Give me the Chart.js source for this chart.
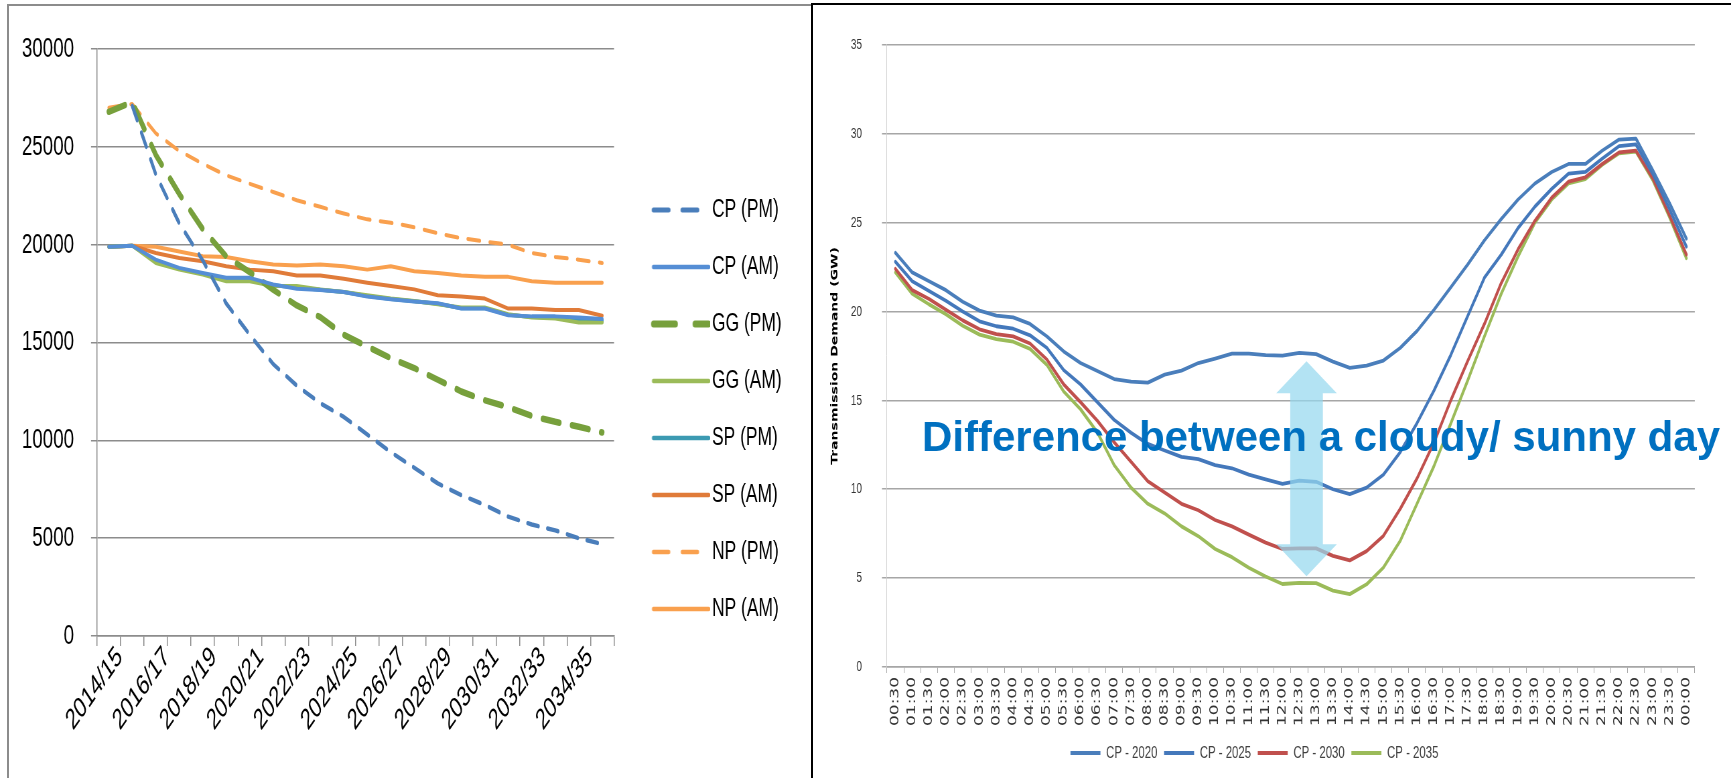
<!DOCTYPE html>
<html>
<head>
<meta charset="utf-8">
<title>Transmission demand</title>
<script src="https://cdn.jsdelivr.net/npm/chart.js@4.4.1/dist/chart.umd.min.js"></script>
<style>
  html, body { margin: 0; padding: 0; background: #fff; }
  body { width: 1731px; height: 778px; position: relative; overflow: hidden; }
  #leftPanel { position: absolute; left: 7px; top: 4px; width: 805px; height: 774px;
               border-left: 2px solid #8c8c8c; border-top: 2px solid #8c8c8c; box-sizing: border-box; }
  #rightPanel { position: absolute; left: 811px; top: 3px; width: 920px; height: 775px;
                border-left: 2px solid #000; border-top: 2px solid #000; box-sizing: border-box; }
  #leftChart { position: absolute; left: 10px; top: 7px; }
  #rightChart { position: absolute; left: 814px; top: 6px; }
</style>
</head>
<body>
<div id="leftPanel"></div>
<div id="rightPanel"></div>
<canvas id="leftChart" height="771" style="width:802px;height:771px"></canvas>
<canvas id="rightChart" height="772" style="width:917px;height:772px"></canvas>
<script>
// left chart: yearly peaks
const years = ['2014/15', '2015/16', '2016/17', '2017/18', '2018/19', '2019/20', '2020/21', '2021/22',
  '2022/23', '2023/24', '2024/25', '2025/26', '2026/27', '2027/28', '2028/29', '2029/30',
  '2030/31', '2031/32', '2032/33', '2033/34', '2034/35', '2035/36'];

const cpPm = [null, 27100, 23600, 21100, 19200, 17000, 15400, 13900, 12800, 11900, 11200,
  10300, 9400, 8600, 7800, 7200, 6700, 6100, 5700, 5400, 5000, 4700];
const cpAm = [19900, 19950, 19240, 18820, 18560, 18310, 18310, 17970, 17750, 17690, 17590,
  17350, 17210, 17100, 17010, 16740, 16740, 16400, 16340, 16340, 16280, 16200];
const ggPm = [26800, 27300, 24600, 22600, 20800, 19400, 18600, 17700, 16900, 16300, 15400,
  14800, 14200, 13700, 13100, 12500, 12050, 11700, 11250, 10950, 10700, 10400];
const ggAm = [19900, 19950, 19070, 18730, 18480, 18140, 18140, 17890, 17890, 17720, 17590,
  17420, 17250, 17130, 16960, 16790, 16790, 16450, 16280, 16230, 16030, 16030];
const spPm = [19900, 19950, 19150, 18780, 18520, 18230, 18230, 17930, 17820, 17700, 17590,
  17380, 17230, 17110, 16980, 16760, 16760, 16420, 16310, 16280, 16150, 16110];
const spAm = [19900, 19950, 19580, 19320, 19160, 18900, 18730, 18650, 18430, 18430, 18260,
  18060, 17890, 17720, 17420, 17350, 17250, 16740, 16740, 16670, 16670, 16370];
const npPm = [27000, 27200, 25700, 24800, 24140, 23550, 23120, 22700, 22280, 21940, 21600,
  21300, 21130, 20900, 20590, 20340, 20170, 20000, 19580, 19380, 19240, 19070];
const npAm = [19900, 19950, 19900, 19660, 19410, 19380, 19160, 18990, 18940, 18990, 18900,
  18730, 18900, 18650, 18560, 18430, 18360, 18360, 18140, 18060, 18060, 18060];

// right chart: half-hourly transmission demand (GW)
const times = ['00:30', '01:00', '01:30', '02:00', '02:30', '03:00', '03:30', '04:00',
  '04:30', '05:00', '05:30', '06:00', '06:30', '07:00', '07:30', '08:00',
  '08:30', '09:00', '09:30', '10:00', '10:30', '11:00', '11:30', '12:00',
  '12:30', '13:00', '13:30', '14:00', '14:30', '15:00', '15:30', '16:00',
  '16:30', '17:00', '17:30', '18:00', '18:30', '19:00', '19:30', '20:00',
  '20:30', '21:00', '21:30', '22:00', '22:30', '23:00', '23:30', '00:00'];

const cp2020 = [23.3, 22.2, 21.7, 21.2, 20.55, 20.05, 19.77, 19.67, 19.3, 18.6, 17.75, 17.1,
  16.65, 16.2, 16.05, 16.0, 16.45, 16.67, 17.1, 17.35, 17.63, 17.63, 17.55, 17.52,
  17.67, 17.6, 17.18, 16.83, 16.96, 17.24, 17.95, 18.91, 20.09, 21.36, 22.64, 24.0,
  25.2, 26.3, 27.2, 27.85, 28.3, 28.3, 29.05, 29.67, 29.73, 27.95, 26.1, 24.1];
const cp2025 = [22.8, 21.7, 21.15, 20.6, 20.0, 19.45, 19.17, 19.03, 18.66, 17.95, 16.7, 15.9,
  14.9, 13.9, 13.18, 12.55, 12.18, 11.82, 11.69, 11.36, 11.18, 10.82, 10.55, 10.3,
  10.49, 10.42, 10.0, 9.73, 10.09, 10.82, 12.09, 13.73, 15.55, 17.55, 19.73, 21.9,
  23.2, 24.7, 25.9, 26.9, 27.75, 27.85, 28.6, 29.3, 29.4, 27.75, 25.75, 23.65];
const cp2030 = [22.4, 21.2, 20.7, 20.1, 19.5, 19.0, 18.73, 18.6, 18.2, 17.3, 15.9, 14.9,
  13.85, 12.64, 11.55, 10.45, 9.82, 9.18, 8.82, 8.27, 7.91, 7.45, 7.0, 6.64,
  6.67, 6.67, 6.25, 6.0, 6.52, 7.38, 8.9, 10.62, 12.62, 15.0, 17.2, 19.3,
  21.6, 23.5, 25.1, 26.4, 27.3, 27.55, 28.3, 28.95, 29.05, 27.5, 25.4, 23.2];
const cp2035 = [22.2, 21.0, 20.4, 19.85, 19.2, 18.7, 18.45, 18.3, 17.9, 17.0, 15.5, 14.5,
  13.2, 11.36, 10.09, 9.18, 8.64, 7.91, 7.36, 6.64, 6.18, 5.58, 5.09, 4.67,
  4.73, 4.72, 4.3, 4.1, 4.65, 5.6, 7.1, 9.2, 11.3, 13.7, 16.1, 18.6,
  21.0, 23.1, 25.0, 26.3, 27.2, 27.45, 28.25, 28.9, 29.0, 27.4, 25.3, 23.0];

// the source picture is squeezed sideways, so both canvases are drawn wider and shown narrower
const squeeze = 0.67;
const sx = (v) => v / squeeze;
const sans = "'Liberation Sans', Arial, sans-serif";

function line(label, data, color, width, dash, legendDash) {
  return {
    label: label,
    data: data,
    borderColor: color,
    backgroundColor: color,
    borderWidth: width,
    borderDash: dash || [],
    legendDash: legendDash || [],
    borderCapStyle: 'round',
    borderJoinStyle: 'round',
    pointRadius: 0,
    tension: 0,
    fill: false
  };
}

const leftCanvas = document.getElementById('leftChart');
leftCanvas.width = Math.round(sx(802));
const rightCanvas = document.getElementById('rightChart');
rightCanvas.width = Math.round(sx(917));

// left legend geometry (page px measured from the left canvas edge)
const legFont = 26;
const legPad = 31;
const legLeft = sx(604);
const legWidth = 254;
const legBox = sx(702) - legLeft - legPad - legFont / 2;
const legCenter = legLeft + legPad + legBox / 2;
const legImgW = Math.round(2 * (sx(700) - legCenter));
const legLineStart = sx(642) - (legCenter - legImgW / 2);

function legendSample(ds) {
  const c = document.createElement('canvas');
  c.width = legImgW;
  c.height = 12;
  const g = c.getContext('2d');
  g.strokeStyle = ds.borderColor;
  g.lineWidth = ds.borderWidth + 0.5;
  g.lineCap = 'round';
  g.setLineDash(ds.legendDash);
  g.beginPath();
  g.moveTo(legLineStart + 2, 6);
  g.lineTo(legImgW - 2, 6);
  g.stroke();
  return c;
}

const leftDatasets = [
  line('CP (PM)', cpPm, '#4a7ebb', 4.5, [16, 14], [23, 20]),
  line('CP (AM)', cpAm, '#558ed5', 4),
  line('GG (PM)', ggPm, '#77a03c', 6.5, [25, 19], [33, 29]),
  line('GG (AM)', ggAm, '#9bbb59', 4),
  line('SP (PM)', spPm, '#3c9ab2', 4),
  line('SP (AM)', spAm, '#e07b39', 4),
  line('NP (PM)', npPm, '#f9a04e', 4, [18, 15], [23, 20]),
  line('NP (AM)', npAm, '#f9a04e', 4)
];
const leftSamples = leftDatasets.map(legendSample);

new Chart(leftCanvas, {
  type: 'line',
  data: { labels: years, datasets: leftDatasets },
  options: {
    responsive: false,
    animation: false,
    layout: { padding: { top: 34, right: leftCanvas.width - legLeft - legWidth, bottom: 0, left: 0 } },
    plugins: {
      tooltip: { enabled: false },
      legend: {
        position: 'right',
        align: 'center',
        maxWidth: legWidth,
        labels: {
          usePointStyle: true,
          pointStyleWidth: legBox,
          padding: legPad,
          color: '#000',
          font: { family: sans, size: legFont },
          generateLabels: (chart) =>
            Chart.defaults.plugins.legend.labels.generateLabels(chart).map((item) => {
              item.pointStyle = leftSamples[item.datasetIndex];
              return item;
            })
        }
      }
    },
    scales: {
      x: {
        offset: true,
        grid: { offset: true, drawOnChartArea: false, tickLength: 10, color: '#8c8c8c', lineWidth: 1.5 },
        border: { color: '#8c8c8c', width: 1.5 },
        ticks: {
          autoSkip: false,
          minRotation: 44,
          maxRotation: 44,
          padding: -6,
          labelOffset: sx(11),
          color: '#000',
          font: { family: sans, size: 29 },
          callback: (v, i) => (i % 2 === 0 ? years[i] : '')
        },
        afterFit: (s) => { s.height = 142; }
      },
      y: {
        min: 0,
        max: 30000,
        ticks: {
          stepSize: 5000,
          padding: sx(17),
          color: '#000',
          font: { family: sans, size: 28 },
          callback: (v) => String(v)
        },
        grid: { color: '#8c8c8c', lineWidth: 1.5, tickLength: sx(6) },
        border: { color: '#8c8c8c', width: 1.5 },
        afterFit: (s) => { s.width = sx(87); }
      }
    }
  }
});

// note and double arrow on the right chart
const noteText = 'Difference between a cloudy/ sunny day';
const arrowAt = 24.43;
const arrowTop = 17.2;
const arrowBottom = 5.1;

const cloudyArrow = {
  id: 'cloudyArrow',
  afterDatasetsDraw(chart) {
    const { ctx } = chart;
    const x = chart.scales.x;
    const y = chart.scales.y;
    const step = x.getPixelForValue(1) - x.getPixelForValue(0);
    const cx = x.getPixelForValue(arrowAt);
    const top = y.getPixelForValue(arrowTop);
    const bottom = y.getPixelForValue(arrowBottom);
    const head = 32;
    const headHalf = step * 1.8;
    const shaftHalf = step * 0.97;

    ctx.save();
    ctx.fillStyle = 'rgba(150, 216, 238, 0.72)';
    ctx.beginPath();
    ctx.moveTo(cx, top);
    ctx.lineTo(cx + headHalf, top + head);
    ctx.lineTo(cx + shaftHalf, top + head);
    ctx.lineTo(cx + shaftHalf, bottom - head);
    ctx.lineTo(cx + headHalf, bottom - head);
    ctx.lineTo(cx, bottom);
    ctx.lineTo(cx - headHalf, bottom - head);
    ctx.lineTo(cx - shaftHalf, bottom - head);
    ctx.lineTo(cx - shaftHalf, top + head);
    ctx.lineTo(cx - headHalf, top + head);
    ctx.closePath();
    ctx.fill();

    // the note itself is not squeezed in the source
    ctx.translate(x.getPixelForValue(1.58), y.getPixelForValue(12.16));
    ctx.scale(1 / squeeze, 1);
    ctx.fillStyle = '#0070c0';
    ctx.font = "bold 42px 'Liberation Sans', Arial, sans-serif";
    ctx.textAlign = 'left';
    ctx.textBaseline = 'alphabetic';
    ctx.fillText(noteText, 0, 0);
    ctx.restore();
  }
};

new Chart(rightCanvas, {
  type: 'line',
  data: {
    labels: times,
    datasets: [
      line('CP - 2020', cp2020, '#4a7ebb', 3.8),
      line('CP - 2025', cp2025, '#4478bb', 3.8),
      line('CP - 2030', cp2030, '#c0504d', 3.8),
      line('CP - 2035', cp2035, '#9bbb59', 3.8)
    ]
  },
  options: {
    responsive: false,
    animation: false,
    layout: { padding: { top: 22, right: rightCanvas.width - sx(881), bottom: 6.5, left: 0 } },
    plugins: {
      tooltip: { enabled: false },
      legend: {
        position: 'bottom',
        labels: {
          usePointStyle: true,
          pointStyle: 'line',
          pointStyleWidth: sx(30),
          padding: 10,
          color: '#404040',
          font: { family: sans, size: 17 }
        }
      }
    },
    scales: {
      x: {
        offset: true,
        grid: { offset: true, drawOnChartArea: false, tickLength: 6, color: '#a6a6a6' },
        border: { color: '#a6a6a6', width: 1.5 },
        ticks: {
          autoSkip: false,
          minRotation: 90,
          maxRotation: 90,
          padding: 4,
          color: '#333',
          font: { family: "'DejaVu Sans', sans-serif", size: 17 }
        },
        afterFit: (s) => { s.height = 67.5; }
      },
      y: {
        min: 0,
        max: 35,
        ticks: { stepSize: 5, padding: sx(20), color: '#333', font: { family: sans, size: 15 } },
        grid: { color: '#a6a6a6', lineWidth: 1.5, tickLength: sx(5) },
        border: { color: '#d0d0d0', width: 1 },
        title: {
          display: true,
          text: 'Transmission Demand (GW)',
          color: '#000',
          font: { family: "'DejaVu Sans', sans-serif", weight: 'bold', size: 14 },
          padding: { top: sx(21) - 8.4, bottom: 0 }
        },
        afterFit: (s) => { s.width = sx(73); }
      }
    }
  },
  plugins: [cloudyArrow]
});
</script>
</body>
</html>
